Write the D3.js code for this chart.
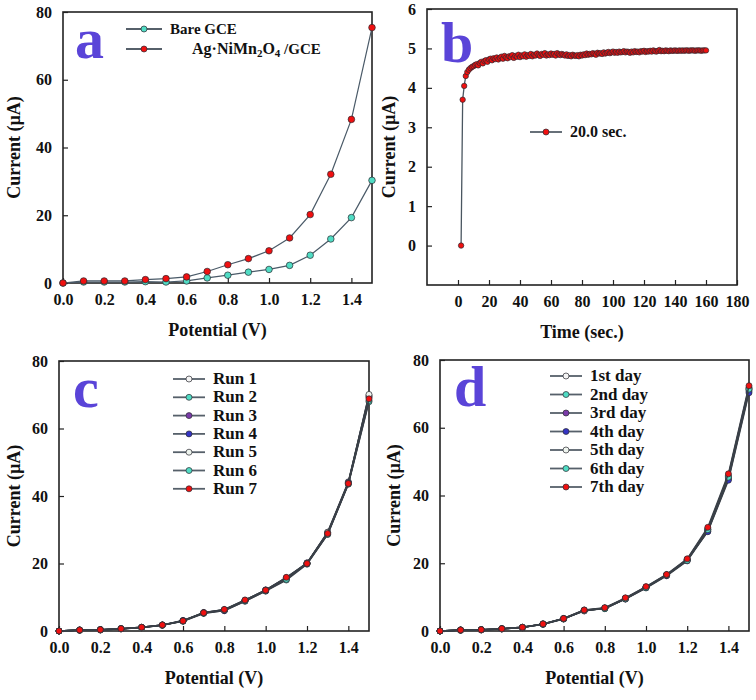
<!DOCTYPE html>
<html>
<head>
<meta charset="utf-8">
<script src="https://cdn.jsdelivr.net/npm/d3@7"></script>
<style>
  body { margin: 0; background: #fff; }
  svg { font-family: "Liberation Serif", "Times New Roman", serif; font-weight: bold; }
</style>
</head>
<body>
<svg width="756" height="700"></svg>
<script>
let svg = d3.select("svg");

// ---- data ----
let potentials = [0, 0.1, 0.2, 0.3, 0.4, 0.5, 0.6, 0.7, 0.8, 0.9, 1.0, 1.1, 1.2, 1.3, 1.4, 1.5];
let potentialTicks = [0, 0.2, 0.4, 0.6, 0.8, 1.0, 1.2, 1.4];
let currentTicks = [0, 20, 40, 60, 80];

let bareGCE = [0, 0.3, 0.3, 0.3, 0.4, 0.3, 0.6, 1.5, 2.3, 3.2, 4.0, 5.2, 8.2, 13.0, 19.3, 30.3];
let agNiMn2O4 = [0, 0.6, 0.6, 0.6, 1.0, 1.3, 1.8, 3.4, 5.4, 7.2, 9.5, 13.3, 20.2, 32.1, 48.3, 75.4];

let run1 = [0, 0.3, 0.4, 0.7, 1.0, 1.7, 3.1, 5.3, 6.2, 9.0, 12.0, 15.6, 20.1, 29.3, 44.2, 69.8];
let run2 = [0, 0.2, 0.4, 0.6, 1.0, 1.8, 2.9, 5.2, 6.1, 8.8, 11.8, 15.1, 19.8, 28.6, 43.5, 67.9];
let run3 = [0, 0.3, 0.3, 0.7, 1.1, 1.7, 3.0, 5.5, 6.3, 9.1, 12.2, 15.8, 20.2, 29.1, 43.9, 69.2];
let run4 = [0, 0.3, 0.4, 0.6, 1.1, 1.8, 3.1, 5.4, 6.0, 8.9, 11.9, 15.5, 19.9, 28.8, 44.0, 69.5];
let run5 = [0, 0.2, 0.4, 0.7, 1.0, 1.7, 3.0, 5.3, 6.2, 9.1, 12.1, 15.7, 20.0, 29.2, 43.8, 70.1];
let run6 = [0, 0.3, 0.3, 0.7, 1.1, 1.8, 2.9, 5.4, 6.3, 9.0, 12.0, 15.3, 20.1, 28.7, 43.6, 68.3];
let run7 = [0, 0.3, 0.4, 0.7, 1.1, 1.8, 3.0, 5.4, 6.4, 9.2, 12.1, 15.9, 20.0, 28.9, 43.7, 68.8];
let runNames = ["Run 1", "Run 2", "Run 3", "Run 4", "Run 5", "Run 6", "Run 7"];

let day1 = [0, 0.3, 0.3, 0.6, 1.0, 2.0, 3.6, 6.0, 6.7, 9.5, 12.8, 16.4, 20.9, 29.8, 45.2, 71.2];
let day2 = [0, 0.2, 0.4, 0.7, 1.1, 2.0, 3.5, 6.1, 6.6, 9.6, 12.9, 16.5, 21.0, 30.0, 45.6, 71.6];
let day3 = [0, 0.3, 0.4, 0.6, 1.0, 2.1, 3.7, 5.9, 6.8, 9.4, 12.7, 16.3, 20.7, 29.5, 44.9, 70.8];
let day4 = [0, 0.3, 0.3, 0.7, 1.1, 2.0, 3.6, 6.1, 6.7, 9.7, 13.0, 16.6, 21.1, 29.3, 44.5, 70.3];
let day5 = [0, 0.2, 0.4, 0.7, 1.0, 2.1, 3.6, 6.0, 6.8, 9.6, 12.9, 16.5, 21.2, 30.2, 45.9, 71.9];
let day6 = [0, 0.3, 0.4, 0.6, 1.1, 2.0, 3.7, 6.2, 6.6, 9.5, 12.8, 16.6, 20.8, 29.9, 45.4, 71.4];
let day7 = [0, 0.3, 0.4, 0.7, 1.1, 2.1, 3.7, 6.2, 6.9, 9.8, 13.1, 16.7, 21.3, 30.6, 46.4, 72.4];
let dayNames = ["1st day", "2nd day", "3rd day", "4th day", "5th day", "6th day", "7th day"];

// chronoamperometry, one reading per second starting at t = 2 s
let timeStart = 2, timeStep = 1;
let ampCurrent = [
  0, 3.70, 4.05, 4.30, 4.40, 4.46, 4.50, 4.53, 4.55, 4.58,
  4.60, 4.57, 4.63, 4.66, 4.62, 4.68, 4.70, 4.66, 4.72, 4.74,
  4.70, 4.75, 4.73, 4.77, 4.72, 4.76, 4.79, 4.74, 4.81, 4.77,
  4.75, 4.80, 4.78, 4.83, 4.76, 4.81, 4.79, 4.84, 4.78, 4.82,
  4.80, 4.85, 4.79, 4.83, 4.81, 4.86, 4.80, 4.84, 4.82, 4.87,
  4.83, 4.81, 4.86, 4.84, 4.88, 4.82, 4.85, 4.83, 4.87, 4.84,
  4.86, 4.82, 4.88, 4.85, 4.83, 4.86, 4.84, 4.82, 4.85, 4.81,
  4.83, 4.80, 4.84, 4.82, 4.81, 4.83, 4.80, 4.84, 4.82, 4.85,
  4.83, 4.87, 4.84, 4.86, 4.85, 4.88, 4.86, 4.84, 4.89, 4.87,
  4.88, 4.86, 4.90, 4.87, 4.89, 4.91, 4.88, 4.90, 4.92, 4.89,
  4.91, 4.89, 4.92, 4.90, 4.91, 4.93, 4.90, 4.92, 4.91, 4.89,
  4.92, 4.90, 4.93, 4.91, 4.92, 4.90, 4.93, 4.92, 4.94, 4.91,
  4.93, 4.92, 4.94, 4.92, 4.95, 4.93, 4.92, 4.94, 4.96, 4.93,
  4.94, 4.93, 4.95, 4.94, 4.93, 4.95, 4.94, 4.94, 4.95, 4.94,
  4.94, 4.95, 4.94, 4.95, 4.94, 4.95, 4.95, 4.94, 4.95, 4.95,
  4.95, 4.94, 4.95, 4.95, 4.95, 4.94, 4.95, 4.95, 4.95
];
let timeTicks = [0, 20, 40, 60, 80, 100, 120, 140, 160, 180];
let ampTicks = [0, 1, 2, 3, 4, 5, 6];

// ---- styles ----
let lineColor = "#3a4048", markStroke = "#2a2a30", letterColor = "#5a44d8";
let red = "#f01010", turquoise = "#50dcc4";
let runColors = ["#f4f4f4", turquoise, "#7a3aa8", "#3434c4", "#eef4ee", turquoise, red];

function panel(box, xDomain, yDomain, xTicks, yTicks, xFmt, xTitle, letter) {
  let g = svg.append("g");
  let x = d3.scaleLinear().domain(xDomain).range([box.x0, box.x1]);
  let y = d3.scaleLinear().domain(yDomain).range([box.y1, box.y0]);

  g.append("g").attr("transform", `translate(0,${box.y1})`)
    .call(d3.axisBottom(x).tickValues(xTicks).tickFormat(xFmt).tickSizeInner(-5).tickSizeOuter(0).tickPadding(11))
    .call(a => a.select(".domain").remove());
  g.append("g").attr("transform", `translate(${box.x0},0)`)
    .call(d3.axisLeft(y).tickValues(yTicks).tickFormat(d3.format("d")).tickSizeInner(-5).tickSizeOuter(0).tickPadding(11))
    .call(a => a.select(".domain").remove());
  g.selectAll(".tick text").attr("font-family", "Liberation Serif").attr("font-weight", "bold")
    .attr("font-size", 16).attr("fill", "#111");
  g.selectAll(".tick line").attr("stroke", "#222").attr("stroke-width", 1.2);

  g.append("rect").attr("x", box.x0).attr("y", box.y0)
    .attr("width", box.x1 - box.x0).attr("height", box.y1 - box.y0)
    .attr("fill", "none").attr("stroke", "#222").attr("stroke-width", 1.6);

  g.append("text").attr("x", (box.x0 + box.x1) / 2).attr("y", box.y1 + 53)
    .attr("text-anchor", "middle").attr("font-size", 18).attr("fill", "#111").text(xTitle);
  g.append("text").attr("transform", `translate(${box.tx},${(box.y0 + box.y1) / 2}) rotate(-90)`)
    .attr("text-anchor", "middle").attr("font-size", 18).attr("fill", "#111").text("Current (µA)");

  g.append("text").attr("x", box.x0 + box.lx).attr("y", box.y0 + box.ly)
    .attr("font-size", 58).attr("fill", letterColor).text(letter);
  return {g, x, y};
}

function series(p, xs, ys, fill, r, width, stroke) {
  let pts = xs.map((v, i) => [v, ys[i]]);
  p.g.append("path").datum(pts)
    .attr("fill", "none").attr("stroke", stroke || lineColor).attr("stroke-width", width)
    .attr("d", d3.line().x(d => p.x(d[0])).y(d => p.y(d[1])));
  p.g.append("g").selectAll("circle").data(pts).join("circle")
    .attr("cx", d => p.x(d[0])).attr("cy", d => p.y(d[1])).attr("r", r)
    .attr("fill", fill).attr("stroke", markStroke).attr("stroke-width", 0.7);
}

function legendRow(g, x1, x2, y, fill, label, fontSize) {
  g.append("line").attr("x1", x1).attr("x2", x2).attr("y1", y).attr("y2", y)
    .attr("stroke", "#56606a").attr("stroke-width", 1.8);
  g.append("circle").attr("cx", (x1 + x2) / 2).attr("cy", y).attr("r", 3)
    .attr("fill", fill).attr("stroke", markStroke).attr("stroke-width", 0.7);
  return g.append("text").attr("x", x2 + 8).attr("y", y + 5)
    .attr("font-size", fontSize).attr("fill", "#111").text(label);
}

let fmt1 = d3.format(".1f");

// ---- panel a ----
let pa = panel({x0: 63, x1: 372, y0: 12, y1: 283, lx: 12, ly: 46, tx: 20},
  [0, 1.5], [0, 80], potentialTicks, currentTicks, fmt1, "Potential (V)", "a");
series(pa, potentials, bareGCE, turquoise, 3.3, 1.2, "#4a5a68");
series(pa, potentials, agNiMn2O4, red, 3.3, 1.2, "#4a5a68");
legendRow(pa.g, 126, 162, 29, turquoise, "Bare GCE", 15);
let agLabel = legendRow(pa.g, 126, 162, 49, red, "", 16).attr("x", 192);
agLabel.append("tspan").text("Ag·NiMn");
agLabel.append("tspan").attr("font-size", 11).attr("dy", 3).text("2");
agLabel.append("tspan").attr("dy", -3).text("O");
agLabel.append("tspan").attr("font-size", 11).attr("dy", 3).text("4");
agLabel.append("tspan").attr("dy", -3).attr("font-size", 15).text("  /GCE");

// ---- panel b ----
let pb = panel({x0: 427, x1: 737, y0: 9, y1: 285, lx: 14, ly: 53, tx: 395},
  [-20, 180], [-1, 6], timeTicks, ampTicks, d3.format("d"), "Time (sec.)", "b");
let times = ampCurrent.map((v, i) => timeStart + i * timeStep);
series(pb, times, ampCurrent, red, 2.7, 1.3, "#4a5660");
legendRow(pb.g, 530, 562, 132, red, "20.0 sec.", 16);

// ---- panel c ----
let pc = panel({x0: 59, x1: 369, y0: 361, y1: 631, lx: 14, ly: 46, tx: 20},
  [0, 1.5], [0, 80], potentialTicks, currentTicks, fmt1, "Potential (V)", "c");
[run1, run2, run3, run4, run5, run6, run7].forEach((s, i) => series(pc, potentials, s, runColors[i], 3, 1.5));
runNames.forEach((n, i) => legendRow(pc.g, 173, 205, 379 + i * 18.3, runColors[i], n, 17));

// ---- panel d ----
let pd = panel({x0: 440, x1: 749, y0: 360, y1: 631, lx: 14, ly: 46, tx: 400},
  [0, 1.5], [0, 80], potentialTicks, currentTicks, fmt1, "Potential (V)", "d");
[day1, day2, day3, day4, day5, day6, day7].forEach((s, i) => series(pd, potentials, s, runColors[i], 3, 1.5));
dayNames.forEach((n, i) => legendRow(pd.g, 550, 582, 376 + i * 18.5, runColors[i], n, 17));
</script>
</body>
</html>
